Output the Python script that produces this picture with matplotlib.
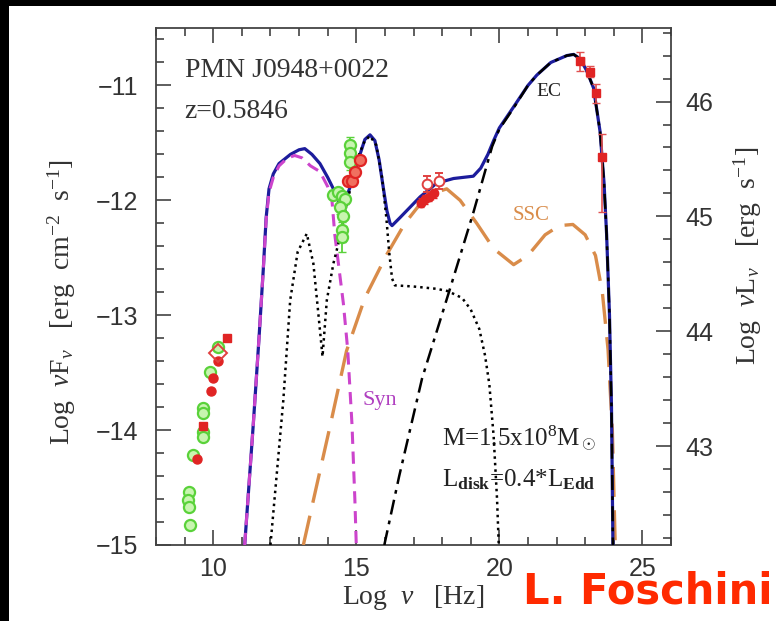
import matplotlib
matplotlib.use("Agg")
import matplotlib.pyplot as plt
from matplotlib.patches import Rectangle
from matplotlib.ticker import MultipleLocator

plt.rcParams['mathtext.fontset'] = 'custom'
plt.rcParams['mathtext.rm'] = 'Liberation Serif'
plt.rcParams['mathtext.it'] = 'Liberation Serif:italic'
plt.rcParams['mathtext.bf'] = 'Liberation Serif:bold'

# ---- model components: log nu [Hz], log nuFnu [erg cm-2 s-1] ----
total_x = [11.1, 11.4, 11.6, 11.75, 11.85, 11.95, 12.1, 12.3, 12.7, 13.0, 13.2,
           13.45, 13.73, 14.0, 14.2, 14.45, 14.65, 14.9, 15.13, 15.3, 15.48,
           15.65, 15.8, 15.95, 16.07, 16.18, 16.25, 16.53, 17.23, 17.81, 18.4,
           19.09, 19.35, 19.6, 19.8, 20.0, 20.49, 21.0, 21.31, 21.8, 22.36,
           22.6, 22.83, 23.05, 23.29, 23.52, 23.66, 23.75, 23.85, 23.92, 23.97]
total_y = [-15.0, -13.95, -13.2, -12.6, -12.15, -11.9, -11.77, -11.68, -11.6,
           -11.56, -11.55, -11.6, -11.68, -11.8, -11.9, -12.05, -11.98, -11.8,
           -11.6, -11.47, -11.43, -11.48, -11.65, -11.9, -12.09, -12.2, -12.22,
           -12.15, -11.97, -11.85, -11.81, -11.79, -11.72, -11.6, -11.48,
           -11.37, -11.19, -11.0, -10.91, -10.8, -10.74, -10.73, -10.77,
           -10.87, -11.02, -11.4, -11.85, -12.3, -13.0, -13.8, -15.0]

syn_x = [11.1, 11.4, 11.6, 11.75, 11.85, 11.95, 12.1, 12.3, 12.6, 12.85, 13.1,
         13.4, 13.73, 14.0, 14.15, 14.25, 14.4, 14.55, 14.7, 14.85, 14.95, 15.0]
syn_y = [-15.0, -13.95, -13.2, -12.6, -12.17, -11.93, -11.8, -11.7, -11.63,
         -11.61, -11.63, -11.7, -11.75, -11.88, -12.0, -12.3, -12.6, -12.9,
         -13.3, -13.95, -14.6, -15.0]

disk_x = [12.0, 12.45, 12.69, 12.95, 13.27, 13.5, 13.66, 13.82, 13.97, 14.2,
          14.45, 14.7, 14.9, 15.1, 15.3, 15.48, 15.7, 15.9, 16.05, 16.15,
          16.25, 16.35, 17.0, 17.8, 18.2, 18.7, 19.0, 19.3, 19.5, 19.65, 19.8,
          19.92, 19.98]
disk_y = [-15.0, -13.74, -12.87, -12.45, -12.29, -12.55, -12.95, -13.36,
          -12.87, -12.55, -12.3, -12.0, -11.78, -11.6, -11.48, -11.44, -11.52,
          -11.8, -12.15, -12.45, -12.68, -12.74, -12.75, -12.77, -12.79,
          -12.85, -12.95, -13.12, -13.35, -13.6, -14.05, -14.6, -15.0]

ssc_x = [13.15, 13.6, 14.08, 14.66, 15.3, 16.07, 16.7, 17.27, 17.8, 18.16,
         18.63, 19.21, 19.8, 20.5, 21.0, 21.6, 22.1, 22.57, 23.0, 23.36, 23.6,
         23.8, 23.95, 24.05]
ssc_y = [-15.0, -14.5, -13.97, -13.31, -12.85, -12.47, -12.2, -12.02, -11.93,
         -11.9, -12.0, -12.2, -12.42, -12.56, -12.48, -12.3, -12.22, -12.21,
         -12.3, -12.48, -12.8, -13.3, -14.0, -15.0]

ec_x = [15.98, 16.5, 17.3, 18.3, 19.1, 19.75, 20.0, 20.49, 21.0, 21.31, 21.8,
        22.36, 22.6, 22.83, 23.05, 23.29, 23.52, 23.66, 23.75, 23.85, 23.92,
        23.97]
ec_y = [-15.0, -14.4, -13.55, -12.75, -12.1, -11.53, -11.38, -11.2, -11.0,
        -10.91, -10.8, -10.74, -10.73, -10.77, -10.87, -11.02, -11.4, -11.85,
        -12.3, -13.0, -13.8, -15.0]

# ---- observations ----
radio_open_x = [9.19, 9.15, 9.13, 9.17, 9.3, 9.65, 9.65, 9.65, 9.65, 9.89, 10.16]
radio_open_y = [-14.83, -14.54, -14.61, -14.67, -14.22, -13.81, -13.85, -14.02,
                -14.06, -13.49, -13.28]
radio_fill_x = [9.42, 9.91, 9.98, 10.16]
radio_fill_y = [-14.25, -13.66, -13.55, -13.40]
radio_sq_x = [9.65, 10.49]
radio_sq_y = [-13.96, -13.2]
radio_dia_x = [10.16]
radio_dia_y = [-13.33]

opt_green_x = [14.78, 14.78, 14.78, 14.2, 14.35, 14.5, 14.62, 14.43, 14.55, 14.49, 14.49]
opt_green_y = [-11.52, -11.59, -11.67, -11.95, -11.93, -11.96, -11.99, -12.06,
               -12.14, -12.26, -12.32]
opt_green_err = [0.07, 0.07, 0.07, 0.04, 0.04, 0.04, 0.04, 0.06, 0.08, 0.1, 0.13]
opt_red_x = [14.72, 14.84, 14.96, 15.13]
opt_red_y = [-11.83, -11.83, -11.75, -11.65]

xray_open_x = [17.48, 17.9]
xray_open_y = [-11.86, -11.83]
xray_fill_x = [17.25, 17.4, 17.55, 17.7]
xray_fill_y = [-12.02, -11.99, -11.97, -11.94]

gam_x = [22.83, 23.17, 23.38, 23.58]
gam_y = [-10.79, -10.88, -11.07, -11.62]
gam_err_lo = [0.08, 0.05, 0.08, 0.48]
gam_err_hi = [0.08, 0.05, 0.08, 0.2]
gam_xerr = [0.12, 0.08, 0.08, 0.05]

LOG_4PI_DL2 = 57.14  # log10(4 pi d_L^2) for z = 0.5846

fig = plt.figure(figsize=(7.76, 6.21), dpi=100, facecolor='black')
fig.patches.append(Rectangle((9 / 776, 0), 1, 1 - 6 / 621,
                             transform=fig.transFigure, facecolor='white',
                             edgecolor='none', zorder=-10))
ax = fig.add_axes([156 / 776, 1 - 545 / 621, 515 / 776, 517 / 621])
ax.set_facecolor('white')

# components
ax.plot(total_x, total_y, color='#1c1c9c', lw=2.3, zorder=4)
ax.plot(syn_x, syn_y, color='#cc44cc', lw=2.2, dashes=(4, 2.5), zorder=5)
ax.plot(disk_x, disk_y, color='black', lw=1.8, ls=(0, (1, 1.6)), zorder=5)
ax.plot(ssc_x, ssc_y, color='#d98c4a', lw=2.4, dashes=(9, 4), zorder=3)
ax.plot(ec_x, ec_y, color='black', lw=1.8, dashes=(6, 2.5, 1.5, 2.5), zorder=5)

# observed points
gkw = dict(marker='o', ms=8, mfc='#c8f5b0', mec='#5ad23a', mew=1.6, ls='none', zorder=6)
ax.plot(radio_open_x, radio_open_y, **gkw)
ax.plot(radio_fill_x, radio_fill_y, 'o', ms=6.5, color='#e02424', zorder=7)
ax.plot(radio_sq_x, radio_sq_y, 's', ms=6, color='#e02424', zorder=7)
ax.plot(radio_dia_x, radio_dia_y, 'D', ms=9, mfc='none', mec='#e04040', mew=1.4, zorder=7)

ax.errorbar(opt_green_x, opt_green_y, yerr=opt_green_err, fmt='none',
            ecolor='#5ad23a', elinewidth=1.3, capsize=3, zorder=6)
ax.plot(opt_green_x, opt_green_y, **gkw)
ax.plot(opt_red_x, opt_red_y, 'o', ms=8, mfc='#f07060', mec='#e02424',
        mew=1.6, ls='none', zorder=7)

ax.errorbar(xray_fill_x, xray_fill_y, yerr=0.04, xerr=0.12, fmt='o', ms=6,
            color='#e02424', elinewidth=1.2, capsize=2, zorder=7)
ax.errorbar(xray_open_x, xray_open_y, yerr=0.07, fmt='o', ms=7, mfc='white',
            mec='#e04040', mew=1.4, ecolor='#e04040', elinewidth=1.2,
            capsize=3, zorder=7)

ax.errorbar(gam_x, gam_y, yerr=[gam_err_lo, gam_err_hi], xerr=gam_xerr,
            fmt='s', ms=6, color='#e02424', ecolor='#e05050', elinewidth=1.2,
            capsize=3, zorder=7)

# axes
TICK_FS = 18
ax.set_xlim(8, 26)
ax.set_ylim(-15, -10.5)
ax.xaxis.set_major_locator(MultipleLocator(5))
ax.xaxis.set_minor_locator(MultipleLocator(1))
ax.yaxis.set_major_locator(MultipleLocator(1))
ax.yaxis.set_minor_locator(MultipleLocator(0.2))
ax.tick_params(which='both', direction='in', top=True, right=False,
               labelsize=TICK_FS, width=1.1, colors='#333333')
ax.tick_params(which='major', length=11)
ax.tick_params(which='minor', length=5.5)
ax.tick_params(axis='y', pad=13)
ax.tick_params(axis='x', pad=9)
for lab in ax.get_xticklabels() + ax.get_yticklabels():
    lab.set_family('Liberation Sans')
for s in ax.spines.values():
    s.set_linewidth(1.3)
    s.set_color('#444444')

ax2 = ax.twinx()
ax2.set_ylim(-15 + LOG_4PI_DL2, -10.5 + LOG_4PI_DL2)
ax2.yaxis.set_major_locator(MultipleLocator(1))
ax2.yaxis.set_minor_locator(MultipleLocator(0.2))
ax2.tick_params(which='both', direction='in', labelsize=TICK_FS, width=1.1,
                colors='#333333', pad=10)
ax2.tick_params(which='major', length=11)
ax2.tick_params(which='minor', length=5.5)
for lab in ax2.get_yticklabels():
    lab.set_family('Liberation Sans')
for s in ax2.spines.values():
    s.set_visible(False)

serif = 'Liberation Serif'
LAB_FS = 20
ax.set_xlabel(r'Log  $\nu$   [Hz]', fontsize=LAB_FS, family=serif, color='#333333')
ax.xaxis.set_label_coords(0.5, -0.1025)
ax.xaxis.label.set_va('center')
ax.set_ylabel(r'Log  $\nu$F$_\nu$   [erg  cm$^{-2}$  s$^{-1}$]', fontsize=LAB_FS,
              family=serif, color='#333333')
ax.yaxis.set_label_coords(-0.1825, 0.47)
ax.yaxis.label.set_va('center')
ax2.set_ylabel(r'Log  $\nu$L$_\nu$   [erg  s$^{-1}$]', fontsize=LAB_FS, family=serif,
               color='#333333')
ax2.yaxis.set_label_coords(1.1495, 0.56)
ax2.yaxis.label.set_va('center')

ax.text(9.0, -10.87, 'PMN J0948+0022', fontsize=20, family=serif,
        color='#333333', va='center')
ax.text(9.0, -11.23, 'z=0.5846', fontsize=20, family=serif, color='#333333',
        va='center')
ax.text(21.3, -11.05, 'EC', fontsize=14, family=serif, color='#222222', va='center')
ax.text(20.45, -12.13, 'SSC', fontsize=15, family=serif, color='#d98c4a', va='center')
ax.text(15.2, -13.74, 'Syn', fontsize=16, family=serif, color='#b040c0', va='center')
ax.text(18.0, -14.07, r'M=1.5x10$^8$M$_\odot$', fontsize=18, family=serif,
        color='#222222', va='center')
ax.text(18.0, -14.43, r'L$_{\mathbf{disk}}$=0.4*L$_{\mathbf{Edd}}$', fontsize=18,
        family=serif, color='#222222', va='center')

fig.text(0.995, 1 - 604 / 621, 'L. Foschini', fontsize=30, fontweight='bold',
         family='DejaVu Sans', color='#ff2a00', ha='right', va='baseline')

fig.savefig('out.png', dpi=100, facecolor=fig.get_facecolor())
